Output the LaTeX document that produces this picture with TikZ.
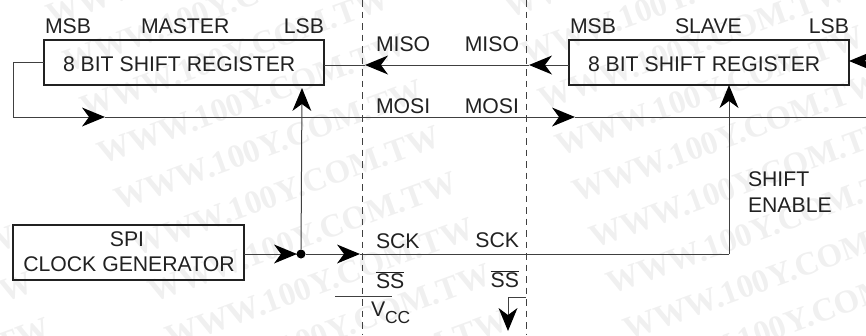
\documentclass[tikz,border=0pt]{standalone}
\usepackage{fontspec}
\setmainfont{Liberation Sans}
\newfontfamily\wmfont{Liberation Serif}
\usetikzlibrary{arrows.meta}
\definecolor{ink}{gray}{0.13}
\definecolor{wire}{gray}{0.25}
\tikzset{
  x=1bp,y=-1bp,
  lbl/.style={anchor=base west,inner sep=0pt,outer sep=0pt,font=\fontsize{21.3}{25}\selectfont,text=ink},
  lblr/.style={lbl,anchor=base east},
  lblc/.style={lbl,anchor=base},
  regbox/.style={draw=ink,line width=1.8bp,inner sep=0pt,outer sep=0pt,minimum height=45bp,minimum width=280bp,anchor=north west},
  wire/.style={draw=wire,line width=1bp},
  tip/.style={wire,-{Stealth[length=23bp,width=19bp,inset=7bp,color=black,fill=black,line width=0pt]}},
  divider/.style={draw=wire,line width=0.8bp,dash pattern=on 6.5bp off 5bp},
  wm/.style={rotate=20,anchor=base west,inner sep=0pt,text=black!6,font=\wmfont\bfseries\fontsize{33}{33}\selectfont},
}
\begin{document}
\begin{tikzpicture}
\useasboundingbox (0,0) rectangle (866,335);
% watermark
\clip (0,0) rectangle (866,335);
\foreach \i in {-2,...,2}{
  \foreach \j in {-8,...,10}{
    \pgfmathsetmacro{\wx}{102+407*\i+17*\j}
    \pgfmathsetmacro{\wy}{165-146*\i+46*\j}
    \pgfmathtruncatemacro{\wok}{and(and(\wx>-320,\wx<866),and(\wy>-10,\wy<450))}
    \ifnum\wok=1
      \node[wm] at (\wx,\wy) {WWW.100Y.COM.TW};
    \fi
  }
}
% registers
\node[regbox] (mreg) at (44,40) {};
\node[regbox] (sreg) at (569,40) {};
\node[regbox,minimum width=231bp,minimum height=55bp] (clk) at (13,225) {};
\node[lbl] (mtxt) at (63,71) {8 BIT SHIFT REGISTER};
\node[lbl] (stxt) at (588,71) {8 BIT SHIFT REGISTER};
\node[lblc] (spi) at (127,246) {SPI};
\node[lblc] (cg) at (129,271) {CLOCK GENERATOR};
\node[lbl] (mmsb) at (45,33) {MSB};
\node[lbl] (mast) at (141,33) {MASTER};
\node[lblr] (mlsb) at (324,33) {LSB};
\node[lbl] (smsb) at (570,33) {MSB};
\node[lbl] (slav) at (675,33) {SLAVE};
\node[lblr] (slsb) at (849,33) {LSB};
\node[lbl] (misol) at (376,51) {MISO};
\node[lblr] (misor) at (519,51) {MISO};
\node[lbl] (mosil) at (376,113) {MOSI};
\node[lblr] (mosir) at (519,113) {MOSI};
\node[lbl] (sckl) at (376,248) {SCK};
\node[lblr] (sckr) at (519,247) {SCK};
\node[lbl] (ssl) at (376,288) {$\overline{\mbox{SS}}$};
\node[lblr] (ssr) at (519,287) {$\overline{\mbox{SS}}$};
\node[lbl] (vcc) at (371,316) {V\raisebox{-7bp}{\fontsize{17.5}{20}\selectfont CC}};
\node[lbl] (shift) at (748,186) {SHIFT};
\node[lbl] (enab) at (748,212) {ENABLE};
% dividers
\coordinate (d1t) at (362,0); \coordinate (d1b) at (362,335);
\coordinate (d2t) at (526,0); \coordinate (d2b) at (526,335);
\draw[divider] (d1t) -- (d1b);
\draw[divider] (d2t) -- (d2b);
% MISO
\coordinate (rin) at (875,61);
\coordinate (rtip) at (849,61);
\coordinate (a1) at (529,65); \coordinate (a2) at (365,65);
\coordinate (sW) at (569,65);
\coordinate (mE) at (324,65);
\draw[tip] (rin) -- (rtip);
\draw[tip] (sW) -- (a1);
\draw[tip] (a1) -- (a2);
\draw[wire] (a2) -- (mE);
% MOSI
\coordinate (mW) at (44,62); \coordinate (c1) at (13,62); \coordinate (c2) at (13,117);
\coordinate (a3) at (105,117); \coordinate (a4) at (575,117); \coordinate (rout) at (866,117);
\draw[tip] (mW) -- (c1) -- (c2) -- (a3);
\draw[tip] (a3) -- (a4);
\draw[wire] (a4) -- (rout);
% clock
\coordinate (cE) at (244,254);
\coordinate (a5) at (297,254); \coordinate (a6) at (360,254);
\coordinate (c3) at (729,254); \coordinate (a7) at (729,85); \coordinate (a8) at (302,88);
\node[circle,fill=black,inner sep=0pt,minimum size=9bp] (dot) at (301,254) {};
\draw[tip] (cE) -- (a5);
\draw[wire] (a5) -- (dot);
\draw[tip] (dot) -- (a6);
\draw[wire] (a6) -- (c3);
\draw[tip] (c3) -- (a7);
\draw[tip] (dot) -- (a8);
% SS
\coordinate (v1) at (335,296); \coordinate (v2) at (392,296);
\draw[wire] (v1) -- (v2);
\coordinate (s1) at (526,297); \coordinate (s2) at (508,297); \coordinate (s3) at (508,331);
\draw[tip] (s1) -- (s2) -- (s3);
\end{tikzpicture}
\end{document}
